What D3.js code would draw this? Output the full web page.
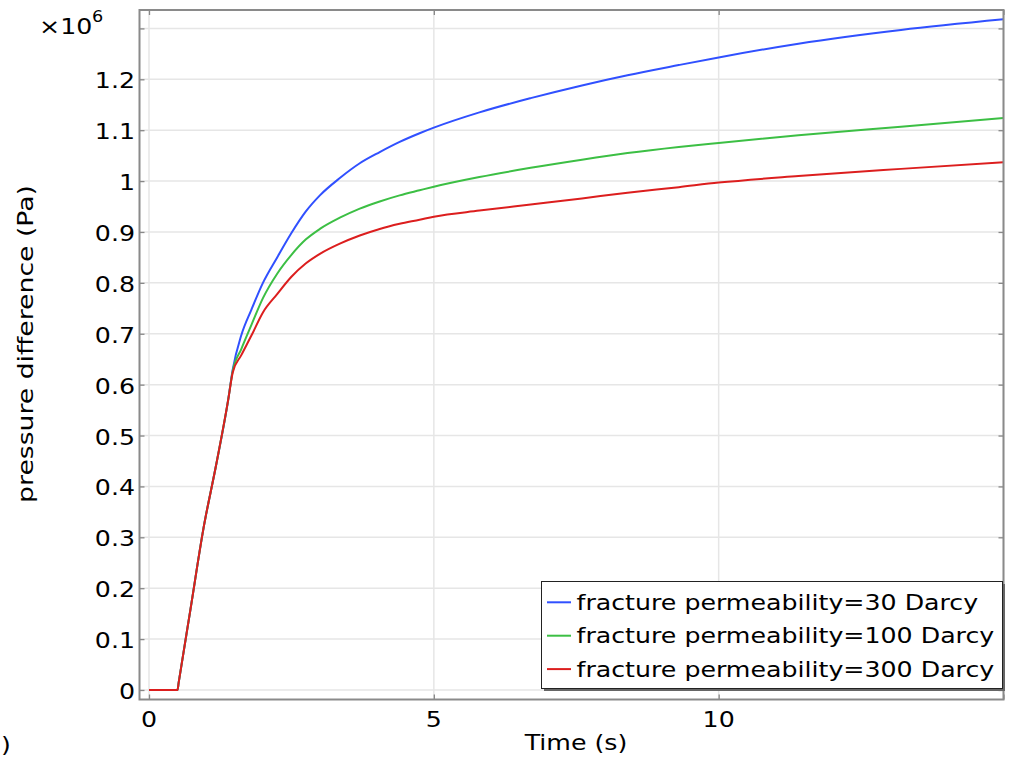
<!DOCTYPE html>
<html>
<head>
<meta charset="utf-8">
<script src="https://cdn.jsdelivr.net/npm/d3@7"></script>
<style>
  body { margin: 0; background: #fff; }
  svg { display: block; }
</style>
</head>
<body>
<script>
// Time samples (s)
const time = [0, 0.5, 0.52, 0.73, 0.957, 1.18, 1.39, 1.47, 1.62, 1.8, 2.0, 2.25, 2.5, 2.75,
              3.0, 3.35, 3.7, 4.05, 4.4, 4.75, 5.0, 5.8, 6.7, 7.6, 8.4, 9.3, 10.0, 11.4, 13.2, 15.0];

// Pressure difference (×10^6 Pa) for each fracture permeability
const dp30  = [0, 0, 0.014, 0.16, 0.318, 0.443, 0.570, 0.630, 0.697, 0.748, 0.800, 0.850, 0.898, 0.940,
               0.972, 1.006, 1.035, 1.057, 1.077, 1.094, 1.105, 1.135, 1.163, 1.188, 1.208, 1.228, 1.243, 1.270, 1.297, 1.318];
const dp100 = [0, 0, 0.014, 0.16, 0.318, 0.443, 0.570, 0.627, 0.670, 0.718, 0.770, 0.818, 0.855, 0.885,
               0.906, 0.928, 0.946, 0.960, 0.972, 0.982, 0.989, 1.008, 1.026, 1.042, 1.055, 1.067, 1.075, 1.090, 1.107, 1.124];
const dp300 = [0, 0, 0.014, 0.16, 0.318, 0.443, 0.570, 0.624, 0.658, 0.697, 0.742, 0.778, 0.812, 0.838,
               0.857, 0.877, 0.893, 0.906, 0.916, 0.924, 0.930, 0.942, 0.954, 0.966, 0.977, 0.988, 0.997, 1.010, 1.024, 1.037];

const seriesNames  = ["fracture permeability=30 Darcy", "fracture permeability=100 Darcy", "fracture permeability=300 Darcy"];
const seriesColors = ["#3050ff", "#3cbf44", "#dc1e1e"];

const xTicks = [0, 5, 10, 15];
const xTickLabels = ["0", "5", "10", ""];
const yTicks = [0, 0.1, 0.2, 0.3, 0.4, 0.5, 0.6, 0.7, 0.8, 0.9, 1.0, 1.1, 1.2, 1.3];
const yTickLabels = ["0", "0.1", "0.2", "0.3", "0.4", "0.5", "0.6", "0.7", "0.8", "0.9", "1", "1.1", "1.2", ""];

const W = 1011, H = 760;
const FONT = "DejaVu Sans, Verdana, sans-serif";
const FS = 21.5;
const SX = 1.175;   // wide lettering

const svg = d3.select("body").append("svg").attr("width", W).attr("height", H);

const x = d3.scaleLinear().domain([-0.1668, 15]).range([139.5, 1003.5]);
const y = d3.scaleLinear().domain([-0.0187, 1.3362]).range([699.5, 10]);
const [x0, x1] = x.range();
const [y0, y1] = y.range();

function label(g, px, py, txt, anchor, size, rotate, sx) {
  return g.append("text")
    .attr("transform", `translate(${px},${py})` + (rotate ? ` rotate(${rotate})` : "") + ` scale(${sx || SX},1)`)
    .attr("text-anchor", anchor)
    .attr("font-family", FONT)
    .attr("font-size", size)
    .attr("fill", "#000")
    .text(txt);
}

// grid
const grid = svg.append("g").attr("stroke", "#e6e6e6").attr("stroke-width", 1.5);
grid.selectAll("line.gx").data(xTicks).join("line")
  .attr("x1", d => x(d)).attr("x2", d => x(d)).attr("y1", y0).attr("y2", y1);
grid.selectAll("line.gy").data(yTicks).join("line")
  .attr("y1", d => y(d)).attr("y2", d => y(d)).attr("x1", x0).attr("x2", x1);

// curves
const line = d3.line().x(d => x(d[0])).y(d => y(d[1])).curve(d3.curveMonotoneX);
const seriesData = [dp30, dp100, dp300];
const plot = svg.append("g");
[0, 1, 2].forEach(i => {
  plot.append("path")
    .datum(time.map((t, k) => [t, seriesData[i][k]]))
    .attr("fill", "none")
    .attr("stroke", seriesColors[i])
    .attr("stroke-width", 2)
    .attr("stroke-linejoin", "round")
    .attr("d", line);
});

// frame and inward ticks on all sides
const axes = svg.append("g");
axes.append("g").attr("transform", `translate(0,${y0})`)
  .call(d3.axisBottom(x).tickValues(xTicks).tickSize(-5).tickFormat(""));
axes.append("g").attr("transform", `translate(0,${y1})`)
  .call(d3.axisTop(x).tickValues(xTicks).tickSize(-5).tickFormat(""));
axes.append("g").attr("transform", `translate(${x0},0)`)
  .call(d3.axisLeft(y).tickValues(yTicks).tickSize(-5).tickFormat(""));
axes.append("g").attr("transform", `translate(${x1},0)`)
  .call(d3.axisRight(y).tickValues(yTicks).tickSize(-5).tickFormat(""));
axes.selectAll(".domain").remove();
axes.selectAll(".tick line").attr("stroke", "#888").attr("stroke-width", 1.3);
svg.append("rect")
  .attr("x", x0).attr("y", y1).attr("width", x1 - x0).attr("height", y0 - y1)
  .attr("fill", "none").attr("stroke", "#8a8a8a").attr("stroke-width", 2);

// tick labels
const tl = svg.append("g");
xTicks.forEach((t, i) => label(tl, x(t), 727, xTickLabels[i], "middle", FS));
yTicks.forEach((t, i) => label(tl, 135, y(t) + 9, yTickLabels[i], "end", FS));

// exponent
label(tl, 39, 34, "×10", "start", FS);
label(tl, 92, 22, "6", "start", 15);

// axis titles
label(svg, 576, 750, "Time (s)", "middle", FS);
label(svg, 33, 344, "pressure difference (Pa)", "middle", FS, -90, 1.24);
label(svg, 1, 752, ")", "start", FS);

// legend
const lg = svg.append("g");
const lx = 541.5, ly = 581.5, lw = 461, lh = 107;
lg.append("rect").attr("x", lx + 2.5).attr("y", ly + 2.5).attr("width", lw).attr("height", lh).attr("fill", "#666");
lg.append("rect").attr("x", lx).attr("y", ly).attr("width", lw).attr("height", lh)
  .attr("fill", "#fff").attr("stroke", "#222").attr("stroke-width", 1);
seriesNames.forEach((name, i) => {
  const ry = 602.3 + i * 33.4;
  lg.append("line").attr("x1", 547).attr("x2", 571).attr("y1", ry).attr("y2", ry)
    .attr("stroke", seriesColors[i]).attr("stroke-width", 2);
  label(lg, 576.5, ry + 7.5, name, "start", FS);
});
</script>
</body>
</html>
